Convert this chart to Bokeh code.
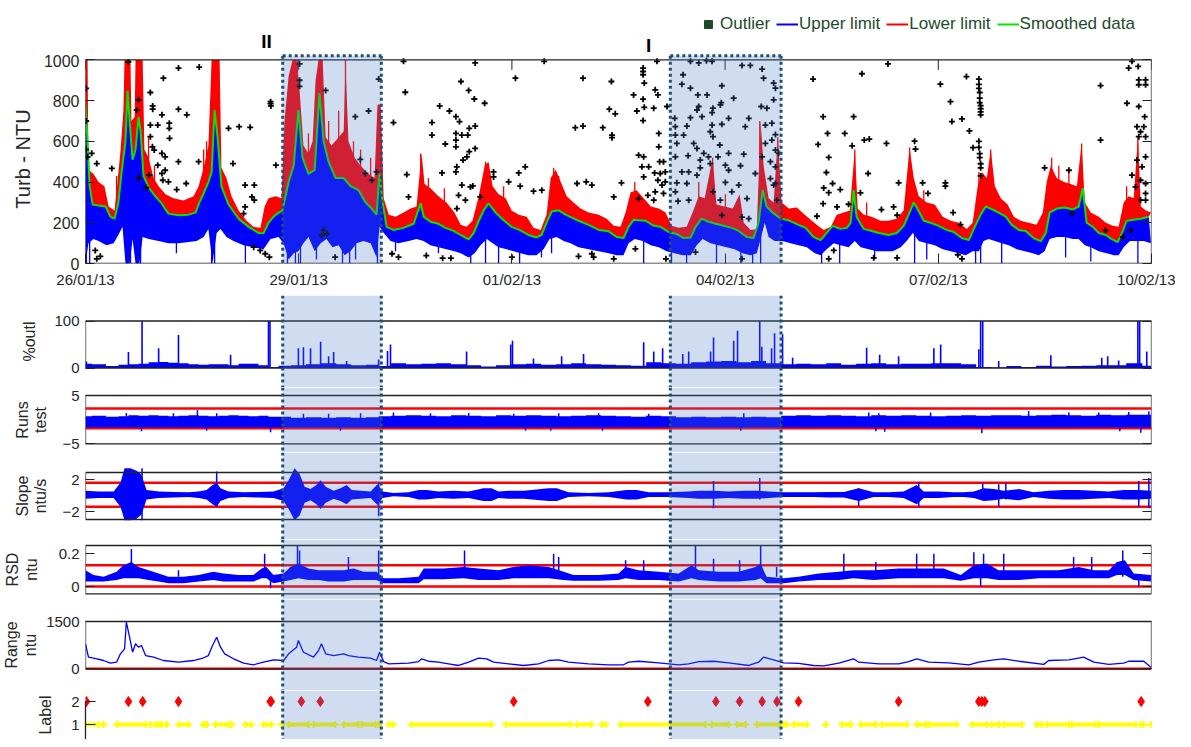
import numpy as np
from datetime import datetime, timezone
from bokeh.plotting import figure
from bokeh.layouts import column
from bokeh.models import (Range1d, FixedTicker, LinearAxis, DatetimeAxis, DatetimeTickFormatter,
                          BoxAnnotation, Span, Legend, LegendItem, CustomJSTickFormatter)
from bokeh.embed import file_html
from bokeh.resources import INLINE
from bokeh.core.properties import value

# ---------------------------------------------------------------- data
START = datetime(2013, 1, 26, tzinfo=timezone.utc)   # time values below are hours from here
SPAN_HOURS = 360.0
X_TICK_DAYS = [0, 3, 6, 9, 12, 15]
TURB_TICKS = [0, 200, 400, 600, 800, 1000]

# smoothed turbidity (hours, NTU)
smoothed = [(0.0,780),(0.7,600),(1.4,380),(2.4,290),(4.4,285),(6.8,280),(8.4,230),(9.8,220),(11.1,300),(12.2,450),
 (13.5,600),(14.2,850),(14.9,700),(15.9,510),(16.9,560),(17.9,720),(18.6,650),(19.6,430),(21.3,375),(23.6,330),
 (25.7,295),(28.0,245),(31.4,237),(34.8,240),(37.2,250),(38.2,290),(39.9,345),(41.5,400),(42.6,450),(43.6,754),
 (44.6,620),(45.9,380),(48.3,290),(51.7,220),(55.1,180),(58.4,150),(60.1,148),(61.8,200),(63.5,230),(65.2,250),
 (66.5,260),(68.6,400),(70.3,480),(71.9,754),(73.3,520),(75.3,440),(77.4,460),(79.0,837),(80.4,600),(82.1,500),
 (84.4,420),(87.2,420),(89.5,380),(92.2,360),(94.6,300),(96.6,270),(98.3,240),(99.3,440),(100.3,300),(101.7,180),
 (104.0,165),(107.4,175),(110.8,195),(113.2,296),(114.2,230),(116.5,205),(119.2,195),(121.6,175),(124.3,160),(126.7,140),
 (129.4,118),(131.1,150),(132.8,210),(134.4,260),(136.1,296),(138.5,250),(141.2,212),(143.9,180),(146.9,163),(149.6,140),
 (152.3,128),(154.0,140),(155.7,200),(157.4,255),(159.8,261),(162.1,240),(164.2,225),(166.5,210),(169.9,190),(173.3,165),
 (176.7,158),(179.4,130),(181.7,125),(183.4,180),(185.1,215),(186.8,212),(189.2,210),(191.9,185),(194.2,180),(196.9,155),
 (199.6,145),(202.0,125),(204.4,128),(206.0,180),(208.1,220),(210.4,205),(212.8,195),(215.5,185),(218.2,175),(220.6,160),
 (223.3,130),(225.6,125),(227.3,200),(228.7,360),(230.0,280),(232.4,246),(234.8,220),(237.5,212),(240.8,190),(243.2,175),
 (245.9,130),(248.3,115),(250.3,150),(252.3,185),(255.0,170),(257.1,175),(258.4,200),(259.4,360),(260.4,230),(262.8,170),
 (265.5,160),(267.9,150),(271.2,140),(274.0,150),(276.3,185),(278.0,240),(279.7,300),(280.7,276),(283.1,210),(285.4,200),
 (288.1,185),(290.8,165),(293.2,155),(295.9,125),(298.3,115),(300.3,180),(302.3,240),(304.0,280),(306.4,265),(308.4,250),
 (310.8,230),(312.8,190),(315.2,165),(317.5,160),(320.2,125),(322.6,110),(324.3,150),(325.6,250),(328.0,270),(330.7,275),
 (333.4,265),(335.4,280),(336.8,370),(338.1,200),(340.2,180),(342.2,150),(344.6,140),(346.6,120),(348.6,105),(350.3,160),
 (351.6,210),(354.0,215),(356.4,220),(359.1,230)]

# red band: highest reach of the "Lower limit" trace
red_top = [(0.0,1000),(0.7,1000),(1.0,460),(2.7,440),(4.4,400),(6.4,380),(7.8,280),(9.8,260),(10.8,400),(11.8,550),
 (12.8,750),(13.2,1000),(15.2,1000),(15.5,700),(16.6,720),(16.9,1000),(19.3,1000),(19.9,560),(21.3,520),(23.0,420),
 (24.7,380),(27.0,340),(29.7,320),(33.1,310),(36.5,330),(38.2,380),(39.9,470),(41.5,580),(42.6,1000),(45.3,1000),
 (45.9,470),(47.6,420),(49.3,330),(51.7,260),(54.4,210),(56.7,180),(59.1,175),(60.5,280),(61.8,320),(64.2,330),
 (66.2,320),(67.2,700),(68.6,920),(69.9,1000),(71.3,1000),(72.3,850),(73.6,580),(75.3,540),(76.7,600),(77.7,900),
 (78.7,1000),(80.1,1000),(81.1,620),(83.1,580),(85.5,620),(87.2,650),(87.8,980),(88.8,600),(90.9,520),(92.9,480),
 (95.6,440),(97.6,420),(98.6,780),(99.7,780),(100.7,320),(102.4,240),(104.7,230),(107.4,250),(109.8,270),(111.8,280),
 (113.5,540),(114.5,390),(116.5,370),(119.2,330),(121.9,300),(124.6,250),(126.7,190),(128.7,180),(130.7,210),(132.8,330),
 (134.8,480),(136.1,500),(137.5,380),(139.5,340),(141.9,320),(143.9,260),(146.3,240),(149.0,230),(151.3,175),(153.7,165),
 (155.7,240),(157.1,420),(158.8,460),(160.5,400),(162.5,330),(164.8,300),(167.2,270),(169.9,250),(173.3,240),(176.0,220),
 (178.4,185),(180.7,180),(182.4,250),(184.1,350),(186.1,360),(188.5,320),(190.9,280),(193.6,270),(195.9,250),(197.9,185),
 (200.3,175),(203.0,180),(205.0,250),(207.1,330),(209.1,320),(211.8,520),(213.1,290),(215.8,280),(218.6,270),(220.9,340),
 (222.3,200),(224.6,165),(226.7,170),(228.0,700),(229.0,480),(230.7,320),(232.4,300),(233.8,620),(235.1,300),(237.5,270),
 (240.2,275),(242.9,240),(244.9,215),(246.9,190),(249.3,165),(251.7,180),(253.7,240),(256.1,250),(258.1,260),(259.8,560),
 (260.8,270),(262.8,240),(265.5,230),(268.5,210),(271.2,210),(274.0,220),(276.3,260),(278.3,570),(279.7,420),(281.4,330),
 (284.1,300),(286.8,290),(289.5,230),(292.2,210),(294.9,200),(297.6,170),(299.6,200),(301.3,380),(302.7,450),(304.4,420),
 (305.7,560),(307.1,380),(309.1,320),(311.4,290),(313.5,230),(315.8,210),(318.5,200),(321.2,190),(323.3,250),(324.6,400),
 (326.0,480),(328.0,420),(330.4,400),(332.7,390),(334.8,380),(336.4,590),(337.5,300),(339.5,250),(342.2,230),(344.6,200),
 (346.9,185),(348.9,180),(350.6,300),(352.3,330),(354.0,320),(355.4,620),(356.4,280),(358.1,260),(359.8,250)]

# blue band: lowest reach of the "Upper limit" trace
blue_bottom = [(0.0,0),(1.0,100),(2.7,120),(4.4,110),(7.1,90),(9.5,100),(11.1,140),(12.5,180),(13.5,0),(14.9,0),
 (15.9,120),(16.9,0),(18.2,0),(19.3,130),(21.3,120),(24.7,110),(28.0,100),(31.4,100),(34.8,105),(37.5,110),
 (39.9,130),(41.5,170),(42.9,0),(44.3,150),(45.6,170),(47.6,130),(50.0,110),(53.4,90),(56.7,80),(60.1,70),
 (62.5,120),(65.2,130),(66.9,100),(68.6,20),(70.3,50),(71.9,60),(73.6,100),(75.3,130),(77.4,60),(79.4,100),
 (81.4,120),(83.4,80),(85.5,90),(87.5,40),(89.5,60),(91.5,100),(93.9,110),(96.3,100),(98.3,30),(99.3,180),
 (100.7,150),(103.0,110),(105.7,100),(109.1,110),(111.8,120),(114.2,110),(116.5,90),(119.2,80),(121.9,70),(124.6,60),
 (126.7,50),(129.4,30),(131.4,50),(133.4,90),(135.5,120),(137.5,100),(139.5,80),(142.2,70),(144.6,60),(146.9,50),
 (149.6,40),(152.3,40),(154.7,70),(156.7,120),(159.1,130),(161.5,110),(163.8,100),(166.5,80),(169.9,70),(173.3,60),
 (176.7,50),(179.4,40),(181.7,40),(183.4,100),(185.5,120),(188.2,110),(190.9,90),(193.6,80),(196.3,60),(199.0,50),
 (201.7,40),(204.4,40),(206.4,90),(208.4,120),(211.1,100),(213.8,90),(216.5,80),(219.2,70),(221.9,50),(224.6,40),
 (226.7,50),(228.0,120),(229.4,200),(230.7,130),(232.7,110),(235.4,110),(238.1,100),(240.8,90),(243.6,80),(246.3,50),
 (248.3,40),(250.3,70),(252.7,100),(255.0,90),(257.7,80),(259.8,110),(261.8,80),(264.5,70),(267.2,60),(269.9,60),
 (272.6,60),(275.3,80),(277.3,110),(279.4,150),(281.4,110),(284.1,100),(286.8,90),(289.5,70),(292.2,60),(294.9,50),
 (297.3,40),(299.6,60),(301.7,60),(303.3,110),(305.0,120),(307.1,110),(309.4,100),(311.8,90),(314.5,70),(317.2,60),
 (319.9,50),(321.9,40),(323.9,60),(325.6,120),(328.0,130),(330.7,130),(333.4,120),(335.4,120),(337.5,90),(339.5,80),
 (342.2,60),(344.9,50),(347.3,40),(348.9,40),(350.6,80),(352.7,110),(355.0,110),(357.4,110),(359.8,100)]

red_spikes = [(0.3,1000),(13.5,1000),(14.5,1000),(17.6,1000),(18.9,1000),(42.9,1000),(44.6,1000),(70.6,1000),
 (71.6,1000),(79.0,1000),(79.7,1000),(87.8,1000),(99.0,780),(113.2,540),(135.1,500),(158.1,470),(211.8,520),
 (227.7,700),(233.8,620),(259.8,560),(278.3,570),(305.7,560),(336.4,590),(355.4,620),(301.7,450),(69.6,900),
 (75.3,640),(82.1,700),(85.5,750),(90.5,600),(92.9,560),(96.3,520),(39.9,560),(40.9,600),(21.3,620),(23.3,480),
 (10.5,430),(121.2,370),(115.8,420),(141.2,380),(159.8,430),(185.5,400),(207.1,400),(216.1,340),(263.8,300),
 (283.1,360),(326.3,520),(328.7,480),(332.1,470),(351.6,380)]

blue_spikes = [(0.3,0),(1.4,0),(14.2,0),(15.2,0),(17.6,0),(18.6,0),(30.7,50),(42.6,0),(43.6,0),(54.0,0),(68.2,0),
 (70.9,0),(72.6,0),(78.0,20),(86.8,0),(89.2,0),(91.2,20),(98.6,0),(104.7,60),(119.2,50),(130.1,0),(135.1,0),
 (139.5,0),(146.6,0),(154.0,30),(157.4,50),(188.5,0),(197.9,0),(203.0,0),(213.1,0),(221.3,0),(225.3,0),(228.0,0),
 (248.6,0),(254.7,0),(266.5,20),(280.0,0),(284.1,20),(300.6,0),(302.3,0),(309.4,0),(331.0,30),(339.5,10),(355.4,0)]

outliers = [(31.4,960),(38.4,965),(26.3,910),(21.9,840),(22.7,774),(22.7,758),(31.4,758),(34.2,730),(25.8,730),
 (21.9,680),(24.4,680),(28.3,689),(28.3,664),(28.4,615),(21.9,623),(22.6,573),(23.2,557),(25.8,541),(26.9,524),
 (24.4,483),(26.9,458),(25.8,442),(26.1,409),(28.0,401),(31.4,500),(38.2,500),(34.0,393),(30.8,363),(21.5,434),
 (20.5,373),(17.9,420),(8.9,467),(3.8,23),(5.0,35),(3.3,64),(48.3,664),(51.9,672),(55.6,669),(49.8,491),(53.9,385),
 (57.0,385),(56.2,327),(57.0,311),(53.9,278),(53.4,245),(56.8,80),(59.0,64),(60.7,48),(62.1,31),(62.5,795),(62.6,774),
 (62.5,785),(64.3,483),(99.0,906),(95.6,749),(91.1,721),(92.8,511),(96.7,409),(94.5,442),(81.5,146),(84.3,31),
 (79.8,138),(80.4,163),(3.8,491),(2.1,541),(0.7,524),(17.9,804),(17.3,754),(0.2,860),(0.2,700),(0.2,560),(98.3,450),
 (14.5,990),(72.3,980),(72.3,900),(72.3,870),(81.1,850),
 (107.4,993),(131.6,985),(154.9,993),(145.2,910),(108.0,841),(126.8,894),(129.4,850),(131.3,808),(134.8,787),
 (119.6,774),(122.9,749),(125.1,721),(126.3,697),(104.0,692),(117.0,692),(117.0,631),(129.6,664),(131.6,675),
 (125.1,639),(127.1,631),(129.1,631),(125.1,606),(125.1,573),(121.5,587),(129.6,549),(131.6,565),(128.8,524),
 (127.5,508),(125.4,475),(125.1,450),(120.4,445),(108.5,437),(148.5,475),(146.3,445),(142.9,401),(137.8,450),
 (137.8,425),(127.1,385),(130.0,376),(130.8,381),(126.0,335),(133.3,327),(109.1,327),(146.8,380),(154.1,360),
 (151.3,355),(125.4,270),(128.3,311),(103.5,48),(105.7,31),(115.1,39),(120.6,26),(123.4,26),(144.0,31),
 (165.4,667),(168.0,675),(168.0,910),(174.7,667),(177.6,894),(176.9,758),(178.9,735),(177.8,631),(177.8,618),
 (166.0,393),(169.1,401),(171.0,385),(181.0,396),(178.4,327),(166.5,35),(171.0,48),(171.6,31),(178.4,23),
 (185.1,828),(188.3,960),(188.3,943),(188.3,927),(188.7,886),(188.3,807),(188.7,767),(186.2,749),(188.3,702),
 (193.0,993),(192.4,853),(193.3,828),(191.9,763),(196.4,771),(193.6,639),(193.6,573),(186.8,532),(188.5,524),
 (193.9,500),(195.2,500),(187.9,475),(190.2,475),(192.2,445),(194.1,442),(195.8,450),(188.5,425),(193.3,409),
 (194.7,385),(195.8,401),(192.4,352),(189.9,335),(186.8,319),(191.9,311),(195.2,344),(196.0,23),(185.7,72),
 (204.3,993),(207.1,985),(209.7,996),(211.6,993),(221.7,973),(224.5,973),(228.5,955),(229.0,910),(201.8,927),
 (201.4,881),(204.3,861),(214.9,873),(218.9,812),(232.4,886),(233.0,861),(206.8,828),(209.9,828),(214.7,790),
 (214.4,779),(207.1,771),(206.5,754),(211.9,763),(211.6,741),(228.2,771),(230.1,763),(232.4,804),(199.0,713),
 (204.3,716),(208.2,721),(217.2,713),(224.0,713),(199.2,672),(203.1,675),(211.6,680),(214.9,684),(222.8,672),
 (229.6,680),(231.8,689),(199.2,631),(202.0,631),(211.0,647),(211.9,623),(199.7,590),(205.4,590),(214.2,582),
 (229.6,590),(231.8,606),(206.5,565),(208.8,541),(217.2,541),(222.3,537),(234.1,541),(199.2,524),(203.5,529),
 (207.6,508),(210.4,524),(213.6,524),(228.5,524),(211.0,491),(216.1,483),(221.2,480),(207.6,470),(201.4,450),
 (203.7,450),(206.5,434),(217.2,458),(226.2,442),(199.7,396),(203.1,393),(216.1,398),(220.6,385),(232.4,385),
 (199.2,352),(211.9,352),(218.3,352),(200.1,306),(203.7,311),(214.4,311),(223.4,319),(221.7,228),(224.0,220),
 (214.9,237),(221.7,23),(206.0,56),(233.0,633),(233.0,557),(233.0,475),(233.0,393),(233.5,311),(231.3,500),(231.3,417),
 (245.7,906),(249.1,721),(247.4,585),(250.6,639),(251.0,521),(250.2,447),(249.3,371),(251.0,348),(252.3,393),
 (254.9,363),(249.1,294),(253.8,278),(247.0,232),(256.4,639),(259.4,721),(258.9,578),(262.2,932),(263.0,606),
 (264.7,611),(264.3,442),(257.7,291),(261.7,347),(271.0,980),(270.5,590),(268.8,265),(266.2,28),(251.0,23),
 (252.7,64),(274.6,396),(272.9,278),(274.1,237),(274.1,28),(280.0,601),(280.3,562),(282.7,396),(284.5,344),
 (288.7,881),(292.1,795),(292.6,697),(296.0,710),(297.5,918),(298.5,651),(290.4,396),(290.4,380),(293.0,250),
 (295.5,191),(294.6,43),(296.0,23),
 (301.7,906),(301.7,880),(301.7,860),(302.0,840),(302.0,812),(302.0,790),(302.3,775),(302.3,760),(302.3,745),
 (302.3,730),(301.7,600),(301.7,570),(302.0,540),(302.0,520),(302.3,490),(302.3,470),(302.3,430),(299.7,569),
 (342.8,874),(342.8,606),(351.7,787),(353.4,993),(352.3,960),(355.5,968),(355.7,902),(355.7,878),(358.0,902),
 (358.0,878),(355.7,771),(357.7,721),(355.1,672),(356.3,647),(357.4,672),(355.7,623),(358.0,623),(355.1,508),
 (358.0,524),(356.8,475),(353.4,434),(356.3,409),(358.0,393),(354.6,376),(358.0,344),(356.3,311),(358.0,311),
 (352.9,163),(344.5,163),(332.1,458),(323.9,470),(333.2,245),(350.3,130)]

# % outliers: background level and isolated bars
outl_level = [(0.0,9),(4.4,8),(9.5,4),(12.8,7),(16.2,8),(19.6,9),(23.0,12),(26.3,13),(29.7,11),(33.1,10),
 (36.5,8),(39.9,7),(43.2,8),(46.6,8),(50.0,6),(53.4,9),(56.7,9),(60.1,6),(63.5,2),(66.9,5),
 (71.9,6),(77.0,8),(82.1,10),(87.2,8),(92.2,6),(97.3,7),(100.7,4),(105.7,10),(110.8,8),(115.9,9),
 (120.9,10),(126.0,8),(131.1,6),(136.1,3),(141.2,6),(146.3,8),(151.3,9),(156.4,7),(161.5,8),(166.5,10),
 (171.6,8),(176.7,7),(181.7,6),(186.8,5),(191.9,12),(196.9,10),(202.0,9),(207.1,12),(212.1,14),(217.2,15),
 (222.3,12),(227.3,15),(232.4,10),(237.5,8),(242.5,9),(247.6,8),(252.7,10),(257.7,7),(262.8,9),(267.9,10),
 (272.9,8),(278.0,9),(283.1,9),(288.1,10),(293.2,10),(298.3,8),(303.3,2),(308.4,1),(313.5,4),(318.5,2),
 (323.6,5),(328.7,3),(333.7,4),(338.8,5),(343.9,6),(348.9,6),(354.0,10),(359.8,5)]
outl_bars = [(0.3,14),(14.5,34),(19.1,100),(24.7,42),(31.4,70),(49.0,28),(61.8,100),(62.3,100),(71.9,42),(73.6,44),
 (76.0,42),(79.4,56),(82.1,25),(83.8,34),(88.2,15),(99.0,18),(102.0,36),(103.0,50),(128.7,35),(143.6,50),
 (144.2,58),(151.3,20),(160.8,25),(168.2,30),(188.5,55),(191.9,35),(194.9,42),(201.7,30),(203.7,35),(211.1,35),
 (212.1,65),(218.9,58),(220.2,79),(227.7,100),(228.4,45),(231.7,42),(232.7,74),(235.4,72),(238.8,22),(263.8,43),
 (268.2,28),(274.6,25),(286.5,42),(288.8,50),(301.7,40),(302.3,100),(303.0,100),(308.4,15),(326.0,27),(343.2,22),
 (345.2,25),(348.9,16),(355.4,100),(356.0,100),(358.4,35)]

# runs test: band top, band floor, excursions
runs_top = [(0.0,0.7),(4.4,0.8),(9.5,0.6),(12.8,0.7),(16.2,0.9),(19.6,0.8),(23.0,0.9),(26.3,0.8),(29.7,0.7),(33.1,0.8),
 (36.5,0.9),(39.9,0.8),(43.2,0.7),(46.6,0.8),(50.0,0.9),(53.4,0.8),(56.7,0.7),(60.1,0.8),(63.5,0.6),(66.9,0.6),
 (71.9,0.4),(77.0,0.5),(82.1,0.4),(87.2,0.5),(92.2,0.4),(97.3,0.5),(100.7,0.7),(105.7,0.8),(110.8,0.9),(115.9,0.8),
 (120.9,0.7),(126.0,0.9),(131.1,0.8),(136.1,0.7),(141.2,0.9),(146.3,0.8),(151.3,0.9),(156.4,0.8),(161.5,0.7),(166.5,0.8),
 (171.6,0.9),(176.7,0.8),(181.7,0.7),(186.8,0.6),(191.9,0.8),(196.9,0.7),(202.0,0.5),(207.1,0.6),(212.1,0.5),(217.2,0.6),
 (222.3,0.5),(227.3,0.6),(232.4,0.5),(237.5,0.8),(242.5,0.9),(247.6,0.8),(252.7,0.9),(257.7,0.8),(262.8,0.7),(267.9,0.9),
 (272.9,0.8),(278.0,0.9),(283.1,0.8),(288.1,0.7),(293.2,0.8),(298.3,0.9),(303.3,0.8),(308.4,0.9),(313.5,0.9),(318.5,0.8),
 (323.6,0.9),(328.7,1.0),(333.7,0.9),(338.8,0.8),(343.9,1.0),(348.9,0.9),(354.0,1.0),(359.8,1.0)]
RUNS_FLOOR = -1.65
runs_excursions = [(13.8,1.4),(29.7,1.3),(37.8,2.0),(44.3,1.3),(73.6,1.2),(82.1,1.2),(92.9,1.3),(104.0,1.5),
 (116.5,1.3),(129.4,1.4),(144.6,1.2),(159.8,1.3),(173.3,1.3),(190.2,1.2),(222.3,1.3),(264.5,1.5),(267.9,1.3),
 (285.4,1.5),(318.5,1.8),(332.1,1.5),(342.2,1.5),(352.3,1.6),(359.1,1.7),
 (18.9,-2.4),(40.9,-2.3),(62.5,-2.6),(86.1,-2.3),(148.6,-2.3),(157.1,-2.3),(174.6,-2.3),(221.3,-2.3),
 (266.9,-2.4),(269.9,-2.5),(302.7,-2.8),(349.3,-2.4),(356.4,-2.7)]
runs_limits = [2.3, -1.8]

# slope: (hours, band low, band high) and isolated strokes (hours, low, high)
slope_band = [(0.0,-0.4,0.6),(4.4,-0.3,0.5),(9.5,-0.3,0.5),(11.8,-1.4,1.6),(13.2,-3.1,3.4),(15.2,-3.1,3.4),(17.2,-2.9,3.1),
 (18.9,-2.4,2.6),(20.6,-0.5,0.7),(24.7,-0.3,0.5),(29.7,-0.25,0.45),(34.8,-0.2,0.4),(38.2,-0.3,0.5),(40.9,-0.5,0.7),
 (42.9,-1.1,1.3),(44.3,-1.4,1.6),(45.6,-0.7,0.9),(48.3,-0.3,0.5),(53.4,-0.2,0.4),(58.4,-0.25,0.45),(63.5,-0.3,0.5),
 (66.9,-0.7,0.9),(68.6,-1.7,1.9),(70.6,-3.1,3.4),(72.3,-2.5,2.7),(74.0,-0.9,1.1),(76.0,-0.6,0.8),(78.0,-1.1,1.3),
 (79.4,-1.7,1.9),(81.1,-0.9,1.1),(83.8,-0.4,0.6),(86.1,-0.7,0.9),(88.2,-1.1,1.3),(89.9,-0.5,0.7),(92.9,-0.4,0.6),
 (96.3,-0.3,0.5),(98.6,-1.2,1.4),(100.3,-0.3,0.5),(104.0,-0.1,0.3),(109.1,-0.2,0.4),(112.5,-0.5,0.7),(115.2,-0.5,0.7),
 (119.2,-0.3,0.5),(124.3,-0.4,0.6),(129.4,-0.3,0.5),(134.4,-0.7,0.9),(137.1,-0.7,0.9),(139.5,-0.3,0.5),(142.9,-0.4,0.6),
 (148.0,-0.4,0.6),(156.4,-0.7,0.9),(159.1,-0.7,0.9),(163.1,-0.2,0.4),(169.9,-0.1,0.3),(176.7,-0.2,0.4),(182.7,-0.5,0.7),
 (186.1,-0.5,0.7),(190.2,-0.2,0.4),(196.9,-0.2,0.4),(203.7,-0.3,0.5),(207.1,-0.4,0.6),(212.1,-0.4,0.6),(217.2,-0.3,0.5),
 (222.3,-0.4,0.6),(227.3,-0.4,0.6),(230.7,-0.3,0.5),(235.8,-0.2,0.4),(240.8,-0.2,0.4),(245.9,-0.2,0.4),(251.0,-0.25,0.45),
 (256.1,-0.25,0.45),(261.1,-0.7,0.9),(266.2,-0.2,0.4),(271.2,-0.2,0.4),(276.3,-0.3,0.5),(280.7,-1.1,1.3),(283.1,-0.3,0.5),
 (288.1,-0.3,0.5),(293.2,-0.2,0.4),(296.6,-0.2,0.4),(300.0,-0.3,0.5),(303.3,-0.7,0.9),(306.7,-0.6,0.8),(310.1,-0.4,0.6),
 (315.2,-0.6,0.8),(320.2,-0.2,0.4),(325.3,-0.4,0.6),(330.4,-0.5,0.7),(335.4,-0.5,0.7),(340.5,-0.4,0.6),(345.6,-0.3,0.5),
 (350.6,-0.5,0.7),(355.7,-0.5,0.7),(359.8,-0.4,0.6)]
slope_strokes = [(44.3,-1.4,3.0),(19.1,-3.1,3.4),(99.0,-2.6,1.6),(212.1,-1.6,1.8),(227.7,-0.5,2.2),(261.1,-1.3,0.9),
 (281.4,-1.5,1.7),(303.0,-0.4,1.6),(308.4,-1.4,1.4),(310.8,-0.5,1.6),(355.7,-1.4,1.8),(359.1,-1.6,2.2)]
slope_limits = [1.6, -1.4]

# relative standard deviation: (hours, band low, band high) and peaks
rsd_band = [(0.0,0.03,0.10),(2.7,0.03,0.07),(6.1,0.03,0.06),(10.5,0.04,0.09),(12.8,0.05,0.13),(15.5,0.05,0.15),
 (17.9,0.05,0.12),(21.3,0.04,0.10),(24.7,0.03,0.08),(28.0,0.02,0.06),(33.1,0.02,0.06),(38.2,0.03,0.07),(43.2,0.04,0.09),
 (46.6,0.03,0.08),(51.7,0.03,0.07),(56.7,0.03,0.07),(59.5,0.05,0.11),(61.1,0.05,0.12),(63.5,0.02,0.07),(66.9,0.03,0.08),
 (69.2,0.04,0.12),(71.9,0.05,0.14),(75.3,0.04,0.11),(78.7,0.04,0.10),(82.1,0.03,0.10),(87.2,0.03,0.10),(90.5,0.04,0.11),
 (93.9,0.04,0.09),(98.3,0.04,0.09),(100.7,0.02,0.05),(105.7,0.02,0.05),(112.5,0.02,0.06),(114.2,0.045,0.11),(120.9,0.045,0.11),
 (127.7,0.05,0.12),(132.8,0.04,0.11),(139.5,0.04,0.10),(144.6,0.05,0.12),(149.6,0.05,0.13),(156.4,0.05,0.12),(161.5,0.04,0.09),
 (164.8,0.035,0.07),(173.3,0.035,0.07),(180.0,0.04,0.08),(182.4,0.05,0.12),(186.8,0.04,0.10),(193.6,0.04,0.09),(200.3,0.03,0.08),
 (204.7,0.05,0.13),(207.1,0.04,0.10),(213.8,0.03,0.09),(220.6,0.03,0.09),(226.3,0.04,0.12),(228.0,0.05,0.14),(230.0,0.02,0.06),
 (235.8,0.02,0.05),(240.8,0.03,0.06),(247.6,0.04,0.08),(254.4,0.04,0.09),(259.4,0.05,0.10),(266.2,0.04,0.10),(274.6,0.05,0.11),
 (281.4,0.05,0.11),(289.8,0.05,0.11),(295.6,0.035,0.07),(300.0,0.05,0.13),(304.4,0.05,0.14),(308.4,0.04,0.10),(315.2,0.04,0.10),
 (322.0,0.05,0.10),(328.7,0.05,0.10),(335.4,0.05,0.12),(340.5,0.05,0.10),(345.6,0.05,0.10),(348.3,0.07,0.15),(351.0,0.07,0.16),
 (354.0,0.04,0.08),(359.8,0.03,0.07)]
rsd_peaks = [(15.5,0.23),(31.4,0.10),(60.5,0.20),(71.6,0.25),(72.3,0.22),(88.8,0.18),(99.0,0.22),(128.0,0.22),
 (158.1,0.20),(159.8,0.18),(182.4,0.16),(188.5,0.16),(206.0,0.25),(212.1,0.17),(220.9,0.16),(228.0,0.25),(233.4,0.12),
 (256.1,0.20),(266.9,0.15),(280.7,0.20),(286.5,0.20),(300.0,0.21),(303.3,0.20),(310.1,0.20),(333.7,0.18),(339.8,0.18),
 (350.3,0.22),(62.5,-0.01),(302.3,0.0),(355.7,0.0)]
rsd_limits = [0.13, 0.0]

# range (hours, ntu)
range_ntu = [(0.0,790),(1.0,370),(2.7,340),(6.1,263),(8.4,178),(10.5,210),(11.8,475),(13.2,634),(13.8,1480),(14.9,1000),
 (15.9,526),(16.9,793),(17.9,686),(18.9,740),(20.3,420),(23.0,370),(26.3,263),(31.4,210),(36.5,263),(39.9,350),
 (41.5,420),(42.9,740),(44.3,1000),(45.6,685),(47.0,475),(50.0,317),(53.4,178),(56.7,127),(60.1,210),(63.5,285),
 (66.9,263),(68.6,475),(71.3,685),(71.9,897),(73.6,526),(77.0,370),(78.7,580),(79.7,793),(81.1,475),(83.8,420),
 (87.2,475),(88.8,420),(92.2,370),(96.3,340),(98.3,263),(99.3,526),(100.7,230),(102.4,158),(109.1,178),(112.5,230),
 (113.5,317),(115.8,240),(119.2,210),(122.6,158),(126.0,105),(129.4,210),(132.8,340),(135.5,317),(137.8,210),(142.9,158),
 (148.0,105),(153.0,158),(156.4,263),(159.8,285),(163.1,210),(169.9,158),(176.7,127),(181.7,127),(183.4,210),(186.8,240),
 (193.6,190),(200.3,127),(203.7,158),(207.1,230),(212.1,240),(217.2,190),(224.0,105),(227.3,210),(229.0,370),(232.4,285),
 (235.8,190),(240.8,170),(245.9,105),(249.3,90),(254.4,178),(259.4,317),(261.1,210),(267.9,158),(274.6,158),(278.0,230),
 (280.7,317),(284.8,210),(291.5,190),(298.3,127),(301.7,210),(306.7,285),(310.1,317),(315.2,240),(323.6,140),(325.3,263),
 (332.1,285),(337.1,370),(340.5,210),(345.6,140),(350.6,178),(352.3,240),(357.4,240),(359.8,50)]
range_limit = 0

# labels: 2 = flagged (hours), 1 = intervals (start, end hours)
label2_hours = [0.3,14.5,19.3,31.4,62.4,62.7,72.9,79.3,144.6,189.9,212.9,220.9,228.5,233.5,240.8,274.6,301.7,302.7,
 303.7,356.5]
label1_runs = [(0.0,4.4),(6.1,6.1),(10.5,20.3),(22.0,22.0),(23.6,24.7),(25.7,25.7),(27.4,27.4),(31.4,34.8),(39.9,39.9),
 (40.9,40.9),(43.9,48.3),(49.3,49.3),(54.0,56.1),(60.1,62.8),(66.2,66.2),(68.6,75.3),(77.0,84.4),(87.2,92.2),
 (93.2,98.0),(99.0,99.0),(102.4,104.0),(110.1,137.1),(141.9,163.8),(165.9,170.9),(174.3,175.7),(180.7,209.4),
 (211.5,217.2),(219.9,222.9),(226.7,234.1),(235.8,236.8),(239.2,243.6),(250.0,250.0),(255.4,258.4),(261.8,266.9),
 (268.9,277.3),(280.7,283.8),(284.8,294.2),(299.3,304.4),(306.0,308.4),(310.1,316.2),(321.2,322.9),(324.6,332.1),
 (333.1,341.2),(342.2,354.7),(356.4,357.4),(359.8,359.8)]

# highlighted periods (start hour, end hour) and their marks
periods = [(66.6, 99.9), (197.5, 234.9)]
period_names = ["II", "I"]
period_name_hours = [61.1, 190.2]
period_name_levels = [1088, 1073]

legend_labels = ["Outlier", "Upper limit", "Lower limit", "Smoothed data"]

# ---------------------------------------------------------------- helpers / style
T0 = START.timestamp() * 1000.0
HOUR = 3600 * 1000.0
def tms(h):
    return T0 + np.asarray(h, dtype=float) * HOUR
def cols(pairs):
    return [np.array(c, dtype=float) for c in zip(*pairs)]

FONT = "Liberation Sans"
TXT = "#262626"
BLUE, RED, GREEN = "#0000ff", "#ff0000", "#00e600"
SHADE, DOT = "#497bc4", "#1f4e79"
LEFT, FRAME_W, RIGHT = 79, 1066, 30
x_range = Range1d(float(tms(0)), float(tms(SPAN_HOURS)))
empty_fmt = CustomJSTickFormatter(code="return ''")

def style_axis(ax, label, tick_px, label_px, standoff):
    ax.axis_label = label
    ax.axis_label_text_font = FONT
    ax.axis_label_text_font_style = "normal"
    ax.axis_label_text_font_size = f"{label_px}px"
    ax.axis_label_text_color = TXT
    ax.axis_label_text_line_height = 1.1
    ax.axis_label_standoff = standoff
    ax.major_label_text_font = FONT
    ax.major_label_text_font_size = f"{tick_px}px"
    ax.major_label_text_color = TXT
    ax.major_label_standoff = 6
    ax.major_tick_in = 9
    ax.major_tick_out = 0
    ax.major_tick_line_color = "#222222"
    ax.minor_tick_in = 0
    ax.minor_tick_out = 0
    ax.axis_line_color = None

def yrange(ft, fb, ref_a, ref_b):
    (pa, va), (pb, vb) = ref_a, ref_b
    s = (va - vb) / (pb - pa)
    return vb - (fb - pb) * s, va + (pa - ft) * s

def base_fig(ft, fb, y0, y1, border_bottom=0, y_axis=True):
    p = figure(frame_width=FRAME_W, frame_height=int(round(fb - ft)), x_range=x_range,
               y_range=Range1d(y0, y1), x_axis_type="datetime", x_axis_location=None,
               y_axis_location="left" if y_axis else None, toolbar_location=None, output_backend="svg",
               min_border_left=LEFT, min_border_right=RIGHT, min_border_top=0,
               min_border_bottom=border_bottom,
               outline_line_color=None, background_fill_color="white", border_fill_color="white")
    p.grid.visible = False
    return p

def panel(ft, fb, ref_a, ref_b, box, ticks, label, tick_px, label_px, standoff, draw_box=True,
          border_bottom=0):
    y0, y1 = yrange(ft, fb, ref_a, ref_b)
    p = base_fig(ft, fb, y0, y1, border_bottom)
    ax = p.yaxis[0]
    ax.ticker = FixedTicker(ticks=ticks)
    style_axis(ax, label, tick_px, label_px, standoff)
    if draw_box:
        rax = LinearAxis(ticker=FixedTicker(ticks=ticks), formatter=empty_fmt, major_tick_in=9,
                         major_tick_out=0, minor_tick_in=0, minor_tick_out=0, axis_line_color=None,
                         major_tick_line_color="#222222", major_label_standoff=0)
        p.add_layout(rax, "right")
    p._box = box
    p._yr = (y0, y1)
    return p

def frame_box(p):
    b0, b1 = p._box
    p.quad(left=[tms(0)], right=[tms(SPAN_HOURS)], bottom=[b0], top=[b1], fill_color=None,
           line_color="#222222", line_width=1.3)

def shade(p, top_value=None):
    for h0, h1 in periods:
        kw = dict(left=float(tms(h0)), right=float(tms(h1)), fill_color=SHADE, fill_alpha=0.26,
                  line_color=None, level="annotation")
        if top_value is not None:
            kw["top"] = top_value
        p.add_layout(BoxAnnotation(**kw))
        if top_value is None:
            for h in (h0, h1):
                p.add_layout(Span(location=float(tms(h)), dimension="height", line_color=DOT,
                                  line_width=3, line_dash="3 3", level="overlay"))
    if top_value is not None:
        yb = p._yr[0]
        n = len(periods)
        x0 = [tms(a) for a, b in periods] + [tms(b) for a, b in periods] + [tms(a) for a, b in periods]
        x1 = [tms(a) for a, b in periods] + [tms(b) for a, b in periods] + [tms(b) for a, b in periods]
        ya = [top_value] * (3 * n)
        yb_ = [yb] * (2 * n) + [top_value] * n
        p.segment(x0=x0, y0=ya, x1=x1, y1=yb_, line_color=DOT, line_width=3, line_dash="3 3", level="overlay")

def limits(p, vals, width=2.5):
    p.segment(x0=[tms(0)] * len(vals), x1=[tms(SPAN_HOURS)] * len(vals), y0=vals, y1=vals,
              line_color=RED, line_width=width)

# ---------------------------------------------------------------- main panel (plot box y 59..263)
main = panel(54, 263, (59.4, 1000), (263, 0), (0, 1000), TURB_TICKS, "Turb - NTU", 16, 20, 7,
             border_bottom=32)

gt, gv = cols(smoothed)
rt, rv = cols(red_top)
bt, bv = cols(blue_bottom)
main.patch(np.concatenate([tms(gt), tms(rt[::-1])]), np.concatenate([gv, rv[::-1]]),
           fill_color=RED, line_color=None)
st, sv = cols(red_spikes)
main.segment(x0=tms(st), x1=tms(st), y0=np.interp(st, gt, gv), y1=sv, line_color=RED, line_width=1.3)
main.patch(np.concatenate([tms(gt), tms(bt[::-1])]), np.concatenate([gv, bv[::-1]]),
           fill_color=BLUE, line_color=None)
st, sv = cols(blue_spikes)
main.segment(x0=tms(st), x1=tms(st), y0=sv, y1=np.interp(st, gt, gv), line_color=BLUE, line_width=1.3)
main.line(tms(gt), gv, line_color=GREEN, line_width=2)
ot, ov = cols(outliers)
main.scatter(tms(ot), ov, marker="cross", size=6, line_color="black", line_width=1.8)
frame_box(main)
shade(main, top_value=1020)

xt = [float(tms(d * 24)) for d in X_TICK_DAYS]
fmt = DatetimeTickFormatter(days="%d/%m/%y", months="%d/%m/%y", years="%d/%m/%y", hours="%d/%m/%y")
xb = DatetimeAxis(ticker=FixedTicker(ticks=xt), formatter=fmt,
                  major_tick_in=10, major_tick_out=0, minor_tick_in=0, minor_tick_out=0,
                  axis_line_color=None, major_tick_line_color="#222222",
                  major_label_text_font=FONT, major_label_text_font_size="15px",
                  major_label_text_color=TXT, major_label_standoff=7)
main.add_layout(xb, "below")
main.segment(x0=xt, x1=xt, y0=[1000] * len(xt), y1=[1000 - 10 * 1000 / 203.6] * len(xt),
             line_color="#222222", line_width=1)

# ---------------------------------------------------------------- strip above the main panel
# (same time scale and the same NTU scale continued upward: legend and period marks)
s_top0 = main._yr[1]
s_scale = 1000 / 203.6
head = base_fig(0, 54, s_top0, s_top0 + 54 * s_scale, y_axis=False)
head.text(x=[tms(h) for h in period_name_hours], y=period_name_levels, text=period_names,
          text_font=value(FONT), text_font_style="bold", text_font_size="19px", text_color="black",
          text_align="center", text_baseline="middle")
nan = [float("nan")]
leg_out = head.scatter(nan, nan, marker="square", size=6, fill_color="#1d4a2a", line_color="#1d4a2a")
leg_up = head.line(nan, nan, line_color=BLUE, line_width=2)
leg_lo = head.line(nan, nan, line_color=RED, line_width=2)
leg_sm = head.line(nan, nan, line_color=GREEN, line_width=2)
legend = Legend(items=[LegendItem(label=legend_labels[0], renderers=[leg_out]),
                       LegendItem(label=legend_labels[1], renderers=[leg_up]),
                       LegendItem(label=legend_labels[2], renderers=[leg_lo]),
                       LegendItem(label=legend_labels[3], renderers=[leg_sm])],
                location=(612, 20), orientation="horizontal", label_text_font=FONT,
                label_text_font_size="17px", label_text_color="#1d4a2a", glyph_width=22, glyph_height=20,
                label_standoff=1, spacing=6, padding=0, margin=0, border_line_color=None,
                background_fill_alpha=0)
head.add_layout(legend)

# ---------------------------------------------------------------- % outliers
po = panel(295, 387, (320.5, 100), (367.5, 0), (0, 100), [0, 100], "%outl", 15, 16, 13)
lt, lv = cols(outl_level)
po.varea_step(x=tms(lt), y1=0, y2=lv, step_mode="center", fill_color=BLUE)
bt_, bv_ = cols(outl_bars)
po.segment(x0=tms(bt_), x1=tms(bt_), y0=0, y1=bv_, line_color=BLUE, line_width=1.6)
frame_box(po)
shade(po)

# ---------------------------------------------------------------- runs test
pr = panel(387, 452, (395, 5), (443.3, -5), (-5, 5), [-5, 5], "Runs\ntest", 15, 16, 10)
limits(pr, runs_limits)
rt_, rv_ = cols(runs_top)
pr.varea_step(x=tms(rt_), y1=RUNS_FLOOR, y2=rv_, step_mode="center", fill_color=BLUE)
et, ev = cols(runs_excursions)
pr.segment(x0=tms(et), x1=tms(et), y0=0, y1=ev, line_color=BLUE, line_width=1.5)
frame_box(pr)
shade(pr)

# ---------------------------------------------------------------- slope
ps = panel(452, 539, (479, 2), (511, -2), (-3.0, 2.875), [-2, 2], "Slope\nntu/s", 15, 16, 10)
limits(ps, slope_limits)
sbt, sbl, sbh = cols(slope_band)
ps.varea(x=tms(sbt), y1=sbl, y2=sbh, fill_color=BLUE)
kt, kl, kh = cols(slope_strokes)
ps.segment(x0=tms(kt), x1=tms(kt), y0=kl, y1=kh, line_color=BLUE, line_width=1.5)
frame_box(ps)
shade(ps)

# ---------------------------------------------------------------- RSD
pd_ = panel(539, 599, (553.3, 0.2), (586, 0), (-0.0446, 0.2508), [0, 0.2], "RSD\nntu", 15, 16, 16)
limits(pd_, rsd_limits)
qt, ql, qh = cols(rsd_band)
pd_.varea(x=tms(qt), y1=ql, y2=qh, fill_color=BLUE)
kt, kv = cols(rsd_peaks)
pd_.segment(x0=tms(kt), x1=tms(kt), y0=0.06, y1=kv, line_color=BLUE, line_width=1.5)
frame_box(pd_)
shade(pd_)

# ---------------------------------------------------------------- range
pg = panel(599, 690, (621, 1500), (668.3, 0), (0, 1500), [0, 1500], "Range\nntu", 15, 16, 4)
limits(pg, [range_limit], width=2.5)
gt2, gv2 = cols(range_ntu)
pg.line(tms(gt2), gv2, line_color=BLUE, line_width=1.3)
frame_box(pg)
shade(pg)

# ---------------------------------------------------------------- label
pl = panel(690, 739, (701, 2), (724, 1), None, [1, 2], "Label", 15, 16, 14, draw_box=False)
pl.yaxis[0].axis_line_color = "#222222"
pl.yaxis[0].axis_line_width = 1.3
pl.yaxis[0].bounds = (pl._yr[0], 2)
pl.yaxis[0].major_tick_in = 10
ys, ye = cols(label1_runs)
pl.segment(x0=tms(ys), x1=tms(ye), y0=1, y1=1, line_color="#ffff00", line_width=4)
pl.scatter(np.concatenate([tms(ys), tms(ye)]), np.ones(2 * len(ys)), marker="cross", size=7,
           line_color="#ffff00", line_width=2)
pl.scatter(tms(label2_hours), np.full(len(label2_hours), 2.0), marker="diamond", size=10,
           fill_color=RED, line_color=RED)
shade(pl)

layout = column(head, main, po, pr, ps, pd_, pg, pl, spacing=0)
open("out.html", "w").write(file_html(layout, INLINE, title="Turbidity"))
